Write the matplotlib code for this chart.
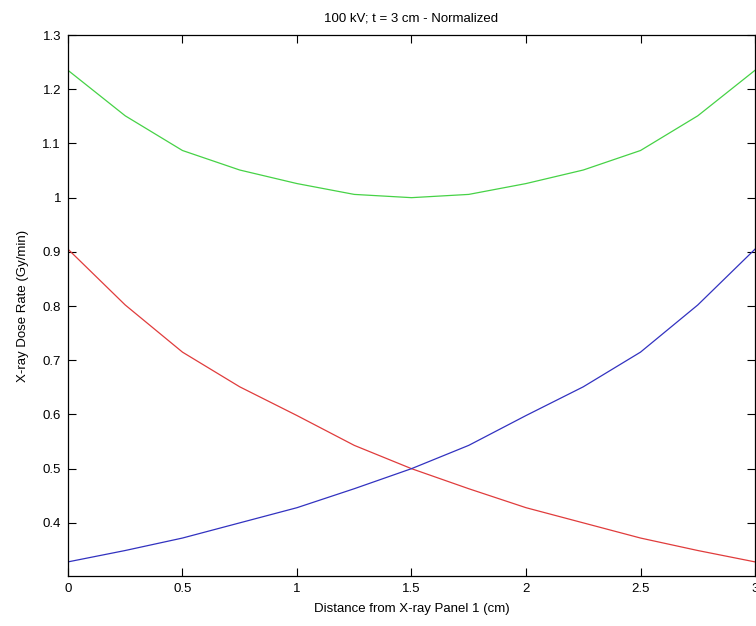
import matplotlib
matplotlib.use("Agg")
import matplotlib.pyplot as plt
from matplotlib.ticker import FormatStrFormatter, FuncFormatter

# Data
distance = [0.0, 0.25, 0.5, 0.75, 1.0, 1.25, 1.5, 1.75, 2.0, 2.25, 2.5, 2.75, 3.0]
panel1 = [0.905, 0.802, 0.715, 0.651, 0.598, 0.543, 0.500, 0.463, 0.428, 0.400, 0.372, 0.349, 0.328]
panel2 = [0.328, 0.349, 0.372, 0.400, 0.428, 0.463, 0.500, 0.543, 0.598, 0.651, 0.715, 0.802, 0.905]
total = [1.235, 1.151, 1.087, 1.051, 1.026, 1.006, 1.000, 1.006, 1.026, 1.051, 1.087, 1.151, 1.235]
xticks = [0, 0.5, 1, 1.5, 2, 2.5, 3]
yticks = [0.4, 0.5, 0.6, 0.7, 0.8, 0.9, 1.0, 1.1, 1.2, 1.3]

plt.rcParams['font.family'] = ['Liberation Sans', 'DejaVu Sans']

fig = plt.figure(figsize=(7.56, 6.26), dpi=100)
ax = fig.add_axes([0.0899, 0.0799, 0.9088, 0.8641])

ax.plot(distance, panel1, color='#e03c3c', lw=0.9)
ax.plot(distance, panel2, color='#3232c0', lw=0.9)
ax.plot(distance, total, color='#46d246', lw=0.9)

ax.set_xlim(0, 3)
ax.set_ylim(0.302, 1.3)
ax.set_xticks(xticks)
ax.set_yticks(yticks)
ax.xaxis.set_major_formatter(FuncFormatter(lambda v, p: '%g' % v))
ax.yaxis.set_major_formatter(FuncFormatter(lambda v, p: '%g' % v))
ax.tick_params(direction='in', top=True, right=True, length=6, width=0.8,
               labelsize=9.5, pad=5)
for s in ax.spines.values():
    s.set_linewidth(0.9)

ax.set_title('100 kV; t = 3 cm - Normalized', fontsize=9.5, pad=10)
ax.set_xlabel('Distance from X-ray Panel 1 (cm)', fontsize=9.5, labelpad=6)
ax.set_ylabel('X-ray Dose Rate (Gy/min)', fontsize=9.5, labelpad=10)

fig.savefig('out.png', dpi=100)
